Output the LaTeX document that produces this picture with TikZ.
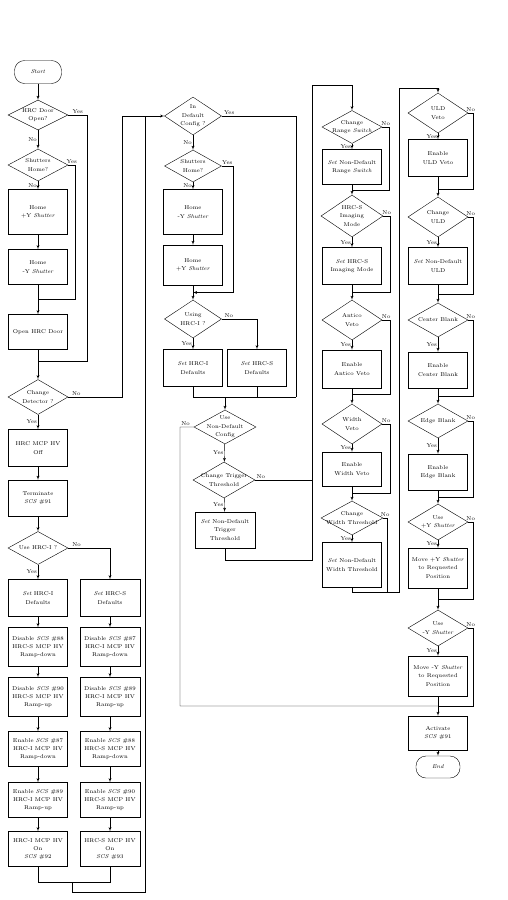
\documentclass[tikz,border=0pt]{standalone}
\usetikzlibrary{shapes,arrows,positioning,calc}

\begin{document}
\begin{tikzpicture}[
    x=1pt, y=-1pt,
    font=\fontsize{5.6}{8.4}\selectfont,
    % Define styles for different types of blocks
    block/.style={
        rectangle,
        draw,
        text centered,
        align=center,
        inner sep=1pt,
        minimum height=36pt,
        minimum width=59pt
    },
    decision/.style={
        diamond,
        draw,
        inner sep=0pt,
        minimum width=60pt,
        minimum height=34pt,
        label={[align=center]center:#1}
    },
    terminal/.style={
        rectangle,
        rounded corners=10pt,
        draw,
        minimum width=47pt,
        minimum height=23pt
    },
    line/.style={
        draw,
        -latex'
    },
    joinline/.style={
        draw
    },
    lbl/.style={
        inner sep=1pt
    }
]
\useasboundingbox (0,0) rectangle (508,900);

% Column 1: door and detector change
\node[terminal] (start) at (38,72) {\textit{Start}};
\node[decision={HRC Door\\Open?}, minimum height=30pt] (door) at (38,115) {};
\node[decision={Shutters\\Home?}, minimum height=32pt] (shut1) at (38,165) {};
\node[block, minimum height=45pt] (homepy1) at (38,212) {Home\\+Y \textit{Shutter}};
\node[block, minimum height=35pt] (homemy1) at (38,267) {Home\\-Y \textit{Shutter}};
\node[block, minimum height=35pt] (opendoor) at (38,332) {Open HRC Door};
\node[decision={Change\\Detector ?}, minimum height=35pt] (chdet) at (38,397) {};
\node[block, minimum height=37pt] (mcpoff) at (38,448) {HRC MCP HV\\Off};
\node[block] (term) at (38,498) {Terminate\\\textit{SCS} \#91};
\node[decision={Use HRC-I ?}, minimum height=33pt] (usei) at (38,548) {};
\node[block, minimum height=37pt] (seti1) at (38,598) {\textit{Set} HRC-I\\Defaults};
\node[block, minimum height=39pt] (dis88) at (38,647) {Disable \textit{SCS} \#88\\HRC-S MCP HV\\Ramp-down};
\node[block, minimum height=39pt] (dis90) at (38,697) {Disable \textit{SCS} \#90\\HRC-S MCP HV\\Ramp-up};
\node[block, minimum height=35pt] (en87) at (38,749) {Enable \textit{SCS} \#87\\HRC-I MCP HV\\Ramp-down};
\node[block, minimum height=35pt] (en89) at (38,800) {Enable \textit{SCS} \#89\\HRC-I MCP HV\\Ramp-up};
\node[block, minimum height=35pt] (oni) at (38,849) {HRC-I MCP HV\\On\\\textit{SCS} \#92};

\node[block, minimum width=60pt, minimum height=37pt] (sets1) at (110,598) {\textit{Set} HRC-S\\Defaults};
\node[block, minimum width=60pt, minimum height=39pt] (dis87) at (110,647) {Disable \textit{SCS} \#87\\HRC-I MCP HV\\Ramp-down};
\node[block, minimum width=60pt, minimum height=39pt] (dis89) at (110,697) {Disable \textit{SCS} \#89\\HRC-I MCP HV\\Ramp-up};
\node[block, minimum width=60pt, minimum height=35pt] (en88) at (110,749) {Enable \textit{SCS} \#88\\HRC-S MCP HV\\Ramp-down};
\node[block, minimum width=60pt, minimum height=35pt] (en90) at (110,800) {Enable \textit{SCS} \#90\\HRC-S MCP HV\\Ramp-up};
\node[block, minimum width=60pt, minimum height=35pt] (ons) at (110,849) {HRC-S MCP HV\\On\\\textit{SCS} \#93};

% Column 2: default configuration
\node[decision={In\\Default\\Config ?}, minimum width=57pt, minimum height=38pt] (indef) at (193,116) {};
\node[decision={Shutters\\Home?}, minimum width=57pt, minimum height=32pt] (shut2) at (193,166) {};
\node[block, minimum height=45pt] (homemy2) at (193,212) {Home\\-Y \textit{Shutter}};
\node[block, minimum height=40pt] (homepy2) at (193,265) {Home\\+Y \textit{Shutter}};
\node[decision={Using\\HRC-I ?}, minimum width=57pt, minimum height=38pt] (usingi) at (193,319) {};
\node[block, minimum height=37pt] (seti2) at (193,368) {\textit{Set} HRC-I\\Defaults};
\node[block, minimum height=37pt] (sets2) at (257,368) {\textit{Set} HRC-S\\Defaults};
\node[decision={Use\\Non-Default\\Config}, minimum width=62pt, minimum height=34pt] (usend) at (225,427) {};
\node[decision={Change Trigger\\Threshold}, minimum width=62pt, minimum height=36pt] (chtrig) at (224,480) {};
\node[block, minimum width=60pt] (settrig) at (225,530) {\textit{Set} Non-Default\\Trigger\\Threshold};

% Column 3: range, imaging, vetoes
\node[decision={Change\\Range \textit{Switch}}, minimum height=33pt] (chrange) at (352,127) {};
\node[block, minimum height=35pt] (setrange) at (352,167) {\textit{Set} Non-Default\\Range \textit{Switch}};
\node[decision={HRC-S\\Imaging\\Mode}, minimum width=62pt, minimum height=42pt] (hrcsim) at (352,216) {};
\node[block, minimum height=37pt] (setim) at (352,266) {\textit{Set} HRC-S\\Imaging Mode};
\node[decision={Antico\\Veto}, minimum height=40pt] (antico) at (352,320) {};
\node[block, minimum height=38pt] (enantico) at (352,369) {Enable\\Antico Veto};
\node[decision={Width\\Veto}, minimum height=40pt] (widthv) at (352,424) {};
\node[block, minimum height=34pt] (enwidth) at (352,469) {Enable\\Width Veto};
\node[decision={Change\\Width Threshold}, minimum width=62pt, minimum height=34pt] (chwidth) at (352,518) {};
\node[block, minimum height=45pt] (setwidth) at (352,565) {\textit{Set} Non-Default\\Width Threshold};

% Column 4: ULD, blanking, shutters
\node[decision={ULD\\Veto}, minimum height=40pt] (uldv) at (438,113) {};
\node[block, minimum height=37pt] (enuld) at (438,158) {Enable\\ULD Veto};
\node[decision={Change\\ULD}, minimum height=40pt] (chuld) at (438,217) {};
\node[block, minimum height=37pt] (setuld) at (438,266) {\textit{Set} Non-Default\\ULD};
\node[decision={Center Blank}, minimum height=34pt] (ctrb) at (438,320) {};
\node[block, minimum height=36pt] (enctr) at (438,370) {Enable\\Center Blank};
\node[decision={Edge Blank}, minimum height=34pt] (edgb) at (438,421) {};
\node[block, minimum height=36pt] (enedge) at (438,472) {Enable\\Edge Blank};
\node[decision={Use\\+Y \textit{Shutter}}, minimum height=36pt] (usepy) at (438,522) {};
\node[block, minimum height=40pt] (movepy) at (438,568) {Move +Y \textit{Shutter}\\to Requested\\Position};
\node[decision={Use\\-Y \textit{Shutter}}, minimum height=36pt] (usemy) at (438,628) {};
\node[block, minimum height=40pt] (movemy) at (438,676) {Move -Y \textit{Shutter}\\to Requested\\Position};
\node[block, minimum height=34pt] (activ) at (438,733) {Activate\\\textit{SCS} \#91};
\node[terminal, minimum width=44pt, minimum height=22pt] (endn) at (438,767) {\textit{End}};

% Junction points
\coordinate (j11) at ($(homemy1.south)!.5!(opendoor.north)$);
\coordinate (j12) at ($(opendoor.south)!.4!(chdet.north)$);
\coordinate (mj) at (72,882);
\coordinate (lp) at (145,116);
\coordinate (j21) at ($(homepy2.south)!.5!(usingi.north)$);
\coordinate (j22) at (296,397);
\coordinate (c2d) at (180,706);
\coordinate (c3b) at (312,560);
\coordinate (c3t) at (312,85);
\coordinate (j31) at ($(setrange.south)!.5!(hrcsim.north)$);
\coordinate (j32) at ($(setim.south)!.5!(antico.north)$);
\coordinate (j33) at ($(enantico.south)!.4!(widthv.north)$);
\coordinate (j34) at ($(enwidth.south)!.5!(chwidth.north)$);
\coordinate (c4b) at (399,592);
\coordinate (c4t) at (399,88);
\coordinate (j41) at ($(enuld.south)!.6!(chuld.north)$);
\coordinate (j42) at ($(setuld.south)!.5!(ctrb.north)$);
\coordinate (j43) at ($(enctr.south)!.5!(edgb.north)$);
\coordinate (j44) at ($(enedge.south)!.5!(usepy.north)$);
\coordinate (j45) at ($(movepy.south)!.5!(usemy.north)$);
\coordinate (j47) at ($(movemy.south)!.5!(activ.north)$);

% Draw the connections
% Column 1
\draw[line] (start) -- (door);
\draw[line] (door) -- node[lbl, left] {No} (shut1);
\draw[line] (shut1) -- node[lbl, left] {No} (homepy1);
\draw[line] (homepy1) -- (homemy1);
\draw[line] (homemy1) -- (opendoor);
\draw[line] (opendoor) -- (chdet);
\draw[joinline] (shut1.east) -- node[lbl, above] {Yes} ++(7,0) |- (j11);
\draw[joinline] (door.east) -- node[lbl, above, pos=.5] {Yes} ++(19,0) |- (j12);
\draw[line] (chdet) -- node[lbl, left] {Yes} (mcpoff);
\draw[line] (mcpoff) -- (term);
\draw[line] (term) -- (usei);
\draw[line] (usei) -- node[lbl, left] {Yes} (seti1);
\draw[line] (usei.east) -| node[lbl, above, pos=.1] {No} (sets1);
\draw[line] (seti1) -- (dis88);
\draw[line] (dis88) -- (dis90);
\draw[line] (dis90) -- (en87);
\draw[line] (en87) -- (en89);
\draw[line] (en89) -- (oni);
\draw[line] (sets1) -- (dis87);
\draw[line] (dis87) -- (dis89);
\draw[line] (dis89) -- (en88);
\draw[line] (en88) -- (en90);
\draw[line] (en90) -- (ons);
\draw[joinline] (oni.south) |- (mj);
\draw[joinline] (ons.south) |- (mj);
\draw[joinline] (mj) -- ++(0,10) -| (lp);
\draw[line] (chdet.east) -- node[lbl, above, pos=.15] {No} ++(54,0) |- (indef.west);

% Column 2
\draw[line] (indef) -- node[lbl, left] {No} (shut2);
\draw[line] (shut2) -- node[lbl, left] {No} (homemy2);
\draw[line] (homemy2) -- (homepy2);
\draw[line] (homepy2) -- (usingi);
\draw[line] (shut2.east) -- node[lbl, above] {Yes} ++(11,0) |- (j21);
\draw[line] (usingi) -- node[lbl, left] {Yes} (seti2);
\draw[line] (usingi.east) -| node[lbl, above, pos=.1] {No} (sets2);
\draw[joinline] (seti2.south) |- (j22);
\draw[joinline] (sets2.south) -- (sets2.south |- j22);
\draw[joinline] (indef.east) -| node[lbl, above, pos=.05] {Yes} (j22);
\draw[line] (usend.north |- j22) -- (usend);
\draw[line] (usend) -- node[lbl, left] {Yes} (chtrig);
\draw[line] (chtrig) -- node[lbl, left] {Yes} (settrig);
\draw[joinline] (usend.west) -| node[lbl, above, pos=.3] {No} (c2d) -- (j47);
\draw[joinline] (chtrig.east) -- node[lbl, above, pos=.1] {No} (chtrig.east -| c3b);
\draw[line] (settrig.south) |- (c3b) -- (c3t) -| (chrange.north);

% Column 3
\draw[line] (chrange) -- node[lbl, left] {Yes} (setrange);
\draw[line] (setrange) -- (hrcsim);
\draw[joinline] (chrange.east) -- node[lbl, above] {No} ++(7,0) |- (j31);
\draw[line] (hrcsim) -- node[lbl, left] {Yes} (setim);
\draw[line] (setim) -- (antico);
\draw[joinline] (hrcsim.east) -- node[lbl, above] {No} ++(7,0) |- (j32);
\draw[line] (antico) -- node[lbl, left] {Yes} (enantico);
\draw[line] (enantico) -- (widthv);
\draw[joinline] (antico.east) -- node[lbl, above] {No} ++(8,0) |- (j33);
\draw[line] (widthv) -- node[lbl, left] {Yes} (enwidth);
\draw[line] (enwidth) -- (chwidth);
\draw[joinline] (widthv.east) -- node[lbl, above] {No} ++(8,0) |- (j34);
\draw[line] (chwidth) -- node[lbl, left] {Yes} (setwidth);
\draw[joinline] (chwidth.east) -- node[lbl, above] {No} ++(4,0) |- (setwidth.south |- c4b);
\draw[line] (setwidth.south) |- (c4b) -- (c4t) -| (uldv.north);

% Column 4
\draw[line] (uldv) -- node[lbl, left] {Yes} (enuld);
\draw[line] (enuld) -- (chuld);
\draw[joinline] (uldv.east) -- node[lbl, above] {No} ++(5,0) |- (j41);
\draw[line] (chuld) -- node[lbl, left] {Yes} (setuld);
\draw[line] (setuld) -- (ctrb);
\draw[joinline] (chuld.east) -- node[lbl, above] {No} ++(5,0) |- (j42);
\draw[line] (ctrb) -- node[lbl, left] {Yes} (enctr);
\draw[line] (enctr) -- (edgb);
\draw[joinline] (ctrb.east) -- node[lbl, above] {No} ++(5,0) |- (j43);
\draw[line] (edgb) -- node[lbl, left] {Yes} (enedge);
\draw[line] (enedge) -- (usepy);
\draw[joinline] (edgb.east) -- node[lbl, above] {No} ++(5,0) |- (j44);
\draw[line] (usepy) -- node[lbl, left] {Yes} (movepy);
\draw[line] (movepy) -- (usemy);
\draw[joinline] (usepy.east) -- node[lbl, above] {No} ++(5,0) |- (j45);
\draw[line] (usemy) -- node[lbl, left] {Yes} (movemy);
\draw[line] (movemy) -- (activ);
\draw[joinline] (usemy.east) -- node[lbl, above] {No} ++(5,0) |- (j47);
\draw[line] (activ) -- (endn);

\end{tikzpicture}
\end{document}
